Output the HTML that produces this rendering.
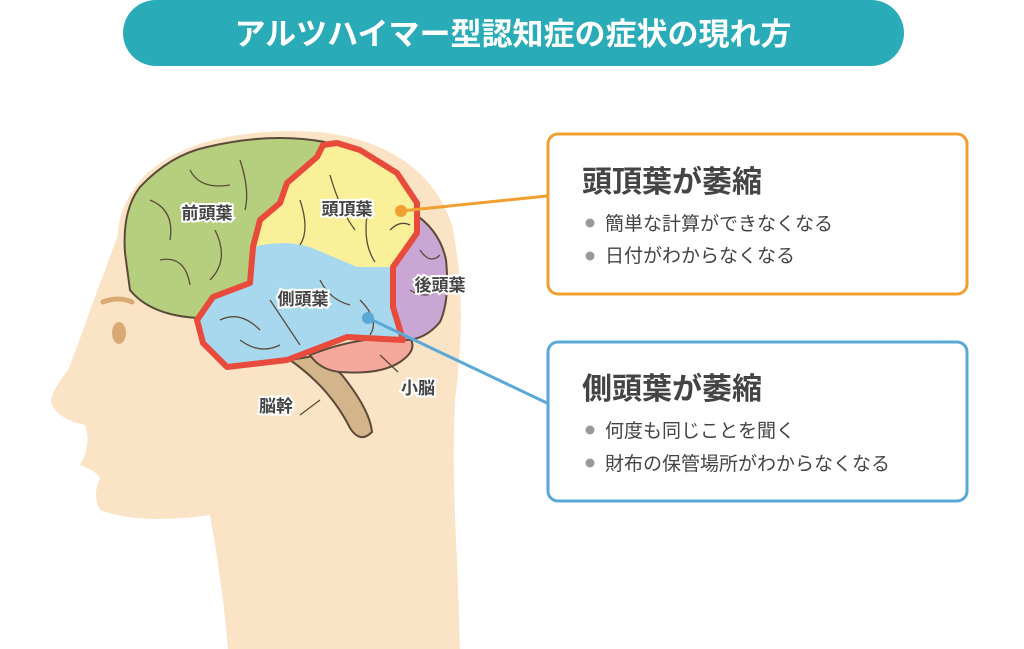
<!DOCTYPE html>
<html><head><meta charset="utf-8"><style>
html,body{margin:0;padding:0;background:#fff;}
body{width:1024px;height:649px;overflow:hidden;position:relative;font-family:"Liberation Sans","Noto Sans CJK JP",sans-serif;}
svg{position:absolute;left:0;top:0;}
</style></head><body>
<svg width="1024" height="649" viewBox="0 0 1024 649" xmlns="http://www.w3.org/2000/svg">
<rect x="123" y="0" width="781" height="66" rx="33" fill="#2aabb8"/>
<text x="513" y="45" text-anchor="middle" font-size="31" font-weight="bold" fill="#fff" font-family="Liberation Sans, Noto Sans CJK JP, sans-serif">アルツハイマー型認知症の症状の現れ方</text>

<!-- head -->
<path d="M460 649 L457 560 Q452 470 455 400 Q468 300 452 225 Q425 145 320 132 Q200 125 145 175 Q118 205 118 235 Q105 270 92 305 Q78 345 68 370 Q48 395 52 405 Q60 420 85 425 Q92 445 80 465 Q95 470 100 478 Q92 495 100 510 Q140 525 210 515 Q222 580 228 649 Z" fill="#fbe3c5"/>
<path d="M103 302 Q118 296 132 302" stroke="#d9aa74" stroke-width="5" fill="none" stroke-linecap="round"/>
<ellipse cx="119" cy="333" rx="7" ry="11" fill="#d9aa74"/>

<!-- brainstem -->
<path d="M290 360 Q330 388 350 428 Q360 444 372 432 Q370 410 342 375 L320 355 Z" fill="#d4b48a" stroke="#5b4a3a" stroke-width="2"/>
<!-- cerebellum -->
<path d="M310 355 Q360 335 410 338 Q418 350 400 362 Q380 375 340 372 Q320 370 310 355 Z" fill="#f5a99c" stroke="#5b4a3a" stroke-width="2"/>
<!-- purple -->
<path d="M412 212 Q440 230 446 260 Q450 300 440 322 Q425 340 405 340 L393 305 L393 268 Z" fill="#c9a6d4" stroke="#5b4a3a" stroke-width="2"/>
<!-- green -->
<path d="M125 253 Q122 210 140 187 Q170 155 207 147 Q270 132 325 142 L330 150 L287 183 L280 203 L258 222 L252 248 L250 283 L213 297 L197 318 Q150 315 130 290 Z" fill="#b5cf7e" stroke="#5b4a3a" stroke-width="2"/>
<!-- red region -->
<path d="M323 145 L317 157 L287 183 L280 203 L260 220 L253 247 L250 283 L213 297 L197 320 L203 343 L227 367 L287 360 L347 337 L403 340 L393 307 L393 267 L417 233 L417 203 L397 173 L360 150 L337 143 Z" fill="#a8d8ee"/>
<path d="M323 145 L317 157 L287 183 L280 203 L260 220 L253 247 Q290 238 317 250 L357 267 L393 267 L417 233 L417 203 L397 173 L360 150 L337 143 Z" fill="#fbf09a"/>
<g stroke="#5b4a3a" stroke-width="1.3" fill="none">
<path d="M150 200 Q175 210 170 240 M190 170 Q200 190 230 185 M215 230 Q230 260 210 280 M160 260 Q185 255 190 285 M240 160 Q250 190 245 210"/>
<path d="M300 200 Q310 230 300 245 M330 175 Q340 210 355 230 M370 200 Q360 240 375 262 M390 230 Q400 220 410 225"/>
<path d="M220 320 Q240 310 260 330 M270 300 Q290 330 300 345 M320 280 Q330 300 350 305 M360 300 Q380 320 370 335 M240 340 Q260 355 280 345"/>
<path d="M420 250 Q430 265 440 255 M410 290 Q425 300 440 290 M320 400 L300 415 M380 355 L398 372"/>
</g>
<path d="M323 145 L317 157 L287 183 L280 203 L260 220 L253 247 L250 283 L213 297 L197 320 L203 343 L227 367 L287 360 L347 337 L403 340 L393 307 L393 267 L417 233 L417 203 L397 173 L360 150 L337 143 Z" fill="none" stroke="#e84a3c" stroke-width="6" stroke-linejoin="round"/>

<g font-size="17" font-weight="bold" fill="#444" stroke="#fff" stroke-width="4" paint-order="stroke" text-anchor="middle" font-family="Liberation Sans, Noto Sans CJK JP, sans-serif">
<text x="207" y="219">前頭葉</text>
<text x="347" y="215">頭頂葉</text>
<text x="440" y="291">後頭葉</text>
<text x="303" y="305">側頭葉</text>
<text x="418" y="394">小脳</text>
<text x="276" y="412">脳幹</text>
</g>

<line x1="401" y1="211" x2="547" y2="196" stroke="#f0a030" stroke-width="3"/>
<circle cx="401" cy="211" r="6" fill="#f0a030"/>
<line x1="368" y1="318" x2="547" y2="403" stroke="#5aa8d8" stroke-width="3"/>
<circle cx="368" cy="318" r="6" fill="#5aa8d8"/>

<rect x="548" y="134" width="419" height="160" rx="10" fill="#fff" stroke="#f0a030" stroke-width="3"/>
<rect x="548" y="342" width="419" height="159" rx="10" fill="#fff" stroke="#5aa8d8" stroke-width="3"/>
<g fill="#444" font-family="Liberation Sans, Noto Sans CJK JP, sans-serif">
<text x="582" y="192" font-size="30" font-weight="bold">頭頂葉が萎縮</text>
<text x="605" y="230" font-size="19">簡単な計算ができなくなる</text>
<text x="605" y="262" font-size="19">日付がわからなくなる</text>
<text x="582" y="399" font-size="30" font-weight="bold">側頭葉が萎縮</text>
<text x="605" y="437" font-size="19">何度も同じことを聞く</text>
<text x="605" y="470" font-size="19">財布の保管場所がわからなくなる</text>
</g>
<g fill="#999">
<circle cx="590" cy="223" r="4.5"/><circle cx="590" cy="256" r="4.5"/>
<circle cx="590" cy="430" r="4.5"/><circle cx="590" cy="463" r="4.5"/>
</g>
</svg>
</body></html>
